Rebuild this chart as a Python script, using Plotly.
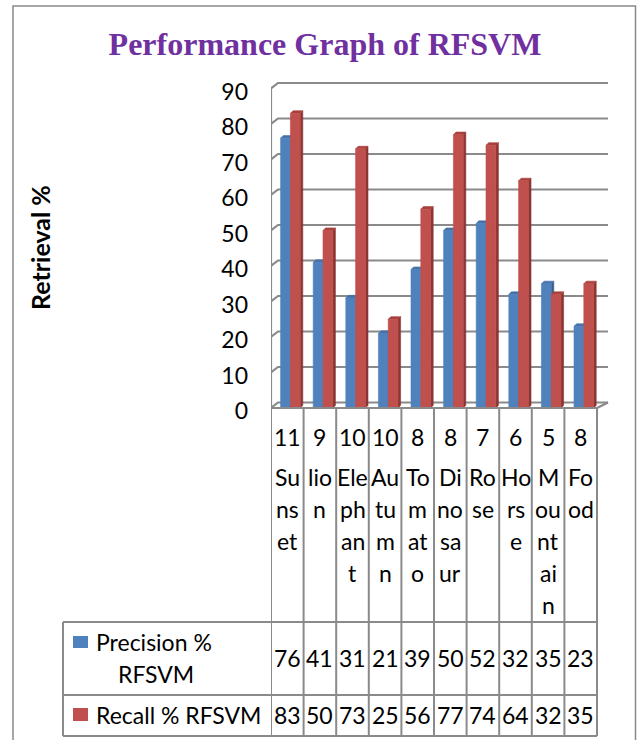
import plotly.graph_objects as go

# ---- data -------------------------------------------------------------
categories = ["Sunset", "lion", "Elephant", "Autumn", "Tomato",
              "Dinosaur", "Rose", "Horse", "Mountain", "Food"]
image_counts = [11, 9, 10, 10, 8, 8, 7, 6, 5, 8]
# category names as they wrap inside the narrow table columns
category_lines = [["Su", "ns", "et"], ["lio", "n"], ["Ele", "ph", "an", "t"],
                  ["Au", "tu", "m", "n"], ["To", "m", "at", "o"],
                  ["Di", "no", "sa", "ur"], ["Ro", "se"], ["Ho", "rs", "e"],
                  ["M", "ou", "nt", "ai", "n"], ["Fo", "od"]]
precision = [76, 41, 31, 21, 39, 50, 52, 32, 35, 23]
recall = [83, 50, 73, 25, 56, 77, 74, 64, 32, 35]
series_names = [["Precision %", "RFSVM"], ["Recall % RFSVM"]]
y_ticks = list(range(0, 100, 10))

# ---- geometry (pixels) ------------------------------------------------
W, H = 637, 740
CAT_PX = 32.6          # width of one category column
X0_PX = 271            # left wall / first table column line
ZERO_PX = 408          # front floor line
UNIT_PX = 3.55         # pixels per percentage point
XDOM_PX = (271, 620)
YDOM_PX = (60, 430)

def xd(px):
    return (px - X0_PX) / CAT_PX

def yd(py):
    return (ZERO_PX - py) / UNIT_PX

def pxx(px):
    return px / W

def pxy(py):
    return 1 - py / H

WALL_DX, WALL_DY = 7 / CAT_PX, 5.5 / UNIT_PX     # back wall depth
BAR_DX, BAR_DY = 2.6 / CAT_PX, 2.6 / UNIT_PX     # bar depth
BAR_START = 9.6 / CAT_PX
BAR_W = 9.8 / CAT_PX
X_BACK = 10 + WALL_DX + 4 / CAT_PX

GRID = "#8a8a8a"
FONT = "Lato"

series_styles = [
    dict(front="#4F81BD", side="#385E8C", top="#4672AA"),
    dict(front="#C0504D", side="#8C3533", top="#A9403D"),
]

fig = go.Figure()


def poly_trace(polys, color):
    xs, ys = [], []
    for p in polys:
        for x, y in p:
            xs.append(x)
            ys.append(y)
        xs.append(None)
        ys.append(None)
    return go.Scatter(x=xs, y=ys, mode="lines", fill="toself",
                      fillcolor=color, line=dict(width=0.6, color=color),
                      hoverinfo="skip", showlegend=False)


for s, (values, style) in enumerate(zip([precision, recall], series_styles)):
    fronts, sides, tops = [], [], []
    for i, v in enumerate(values):
        x0 = i + BAR_START + s * BAR_W
        x1 = x0 + BAR_W
        fronts.append([(x0, 0), (x1, 0), (x1, v), (x0, v), (x0, 0)])
        sides.append([(x1, 0), (x1 + BAR_DX, BAR_DY), (x1 + BAR_DX, v + BAR_DY),
                      (x1, v), (x1, 0)])
        tops.append([(x0, v), (x1, v), (x1 + BAR_DX, v + BAR_DY),
                     (x0 + BAR_DX, v + BAR_DY), (x0, v)])
    fig.add_trace(poly_trace(sides, style["side"]))
    fig.add_trace(poly_trace(tops, style["top"]))
    fig.add_trace(poly_trace(fronts, style["front"]))

shapes = []
# back-wall gridlines with their perspective step at the left wall
for v in y_ticks:
    shapes.append(dict(type="path", xref="x", yref="y", layer="below",
                       path=f"M 0,{v} L {WALL_DX},{v + WALL_DY} L {X_BACK},{v + WALL_DY}",
                       line=dict(color=GRID, width=2.2)))
# floor right edge and left wall
shapes.append(dict(type="line", xref="x", yref="y", layer="below",
                   x0=10, y0=0, x1=X_BACK, y1=WALL_DY,
                   line=dict(color=GRID, width=2.2)))
shapes.append(dict(type="line", xref="x", yref="y", layer="below",
                   x0=0, y0=0, x1=0, y1=y_ticks[-1],
                   line=dict(color=GRID, width=2.2)))

# ---- data table -------------------------------------------------------
T_TOP, T_MID, T_BOT = 622, 695, 736
T_LEFT = 63
for c in range(len(categories) + 1):
    shapes.append(dict(type="line", xref="x", yref="paper", x0=c, x1=c,
                       y0=pxy(ZERO_PX), y1=pxy(T_BOT),
                       line=dict(color=GRID, width=2)))
shapes.append(dict(type="line", xref="x", yref="paper", x0=0, x1=len(categories),
                   y0=pxy(ZERO_PX), y1=pxy(ZERO_PX), line=dict(color=GRID, width=2.2)))
right_px = X0_PX + len(categories) * CAT_PX
for ypx in (T_TOP, T_MID, T_BOT):
    shapes.append(dict(type="line", xref="paper", yref="paper",
                       x0=pxx(T_LEFT), x1=pxx(right_px), y0=pxy(ypx), y1=pxy(ypx),
                       line=dict(color=GRID, width=2)))
shapes.append(dict(type="line", xref="paper", yref="paper",
                   x0=pxx(T_LEFT), x1=pxx(T_LEFT), y0=pxy(T_TOP), y1=pxy(T_BOT),
                   line=dict(color=GRID, width=2)))
# legend keys
for (ytop, ybot), style in zip([(636, 648), (708, 721)], series_styles):
    shapes.append(dict(type="rect", xref="paper", yref="paper",
                       x0=pxx(73), x1=pxx(88), y0=pxy(ybot), y1=pxy(ytop),
                       fillcolor=style["front"], line=dict(width=0)))
# outer chart frame
shapes.append(dict(type="rect", xref="paper", yref="paper",
                   x0=pxx(13), x1=pxx(635.5), y0=pxy(746), y1=pxy(6),
                   line=dict(color="#898989", width=1.5)))

annotations = []
txt = dict(family=FONT, size=23, color="black")
for i in range(len(categories)):
    xc = i + 0.5
    annotations.append(dict(x=xc, y=pxy(437), xref="x", yref="paper",
                            text=str(image_counts[i]), showarrow=False,
                            font=txt, xanchor="center", yanchor="middle"))
    for k, part in enumerate(category_lines[i]):
        annotations.append(dict(x=xc, y=pxy(477 + 32 * k), xref="x", yref="paper",
                                text=part, showarrow=False, font=txt,
                                xanchor="center", yanchor="middle"))
    annotations.append(dict(x=xc, y=pxy(658), xref="x", yref="paper",
                            text=str(precision[i]), showarrow=False, font=txt,
                            xanchor="center", yanchor="middle"))
    annotations.append(dict(x=xc, y=pxy(715), xref="x", yref="paper",
                            text=str(recall[i]), showarrow=False, font=txt,
                            xanchor="center", yanchor="middle"))

annotations.append(dict(x=pxx(94), y=pxy(642), xref="paper", yref="paper",
                        text=series_names[0][0], showarrow=False, font=txt,
                        xanchor="left", yanchor="middle"))
annotations.append(dict(x=pxx(156), y=pxy(674), xref="paper", yref="paper",
                        text=series_names[0][1], showarrow=False, font=txt,
                        xanchor="center", yanchor="middle"))
annotations.append(dict(x=pxx(94), y=pxy(715), xref="paper", yref="paper",
                        text=series_names[1][0], showarrow=False, font=txt,
                        xanchor="left", yanchor="middle"))
annotations.append(dict(x=pxx(40), y=pxy(248), xref="paper", yref="paper",
                        text="<b>Retrieval %</b>", textangle=-90, showarrow=False,
                        font=dict(family=FONT, size=25, color="black"),
                        xanchor="center", yanchor="middle"))

fig.update_layout(
    width=W, height=H,
    margin=dict(l=0, r=0, t=0, b=0),
    paper_bgcolor="white", plot_bgcolor="rgba(0,0,0,0)",
    showlegend=False,
    title=dict(text="<b>Performance Graph of RFSVM</b>", x=325 / W, xanchor="center",
               y=pxy(44), yanchor="middle",
               font=dict(family="Liberation Serif", size=32, color="#7030A0")),
    xaxis=dict(domain=[pxx(XDOM_PX[0]), pxx(XDOM_PX[1])],
               range=[xd(XDOM_PX[0]), xd(XDOM_PX[1])], visible=False, fixedrange=True),
    yaxis=dict(domain=[pxy(YDOM_PX[1]), pxy(YDOM_PX[0])],
               range=[yd(YDOM_PX[1]), yd(YDOM_PX[0])],
               tickvals=y_ticks, ticktext=[str(v) for v in y_ticks],
               showgrid=False, zeroline=False, showline=False, ticks="",
               ticklabelstandoff=22, ticklabelshift=3,
               tickfont=dict(family=FONT, size=23, color="black"), fixedrange=True),
    shapes=shapes,
    annotations=annotations,
)

fig.write_html("out.html")
